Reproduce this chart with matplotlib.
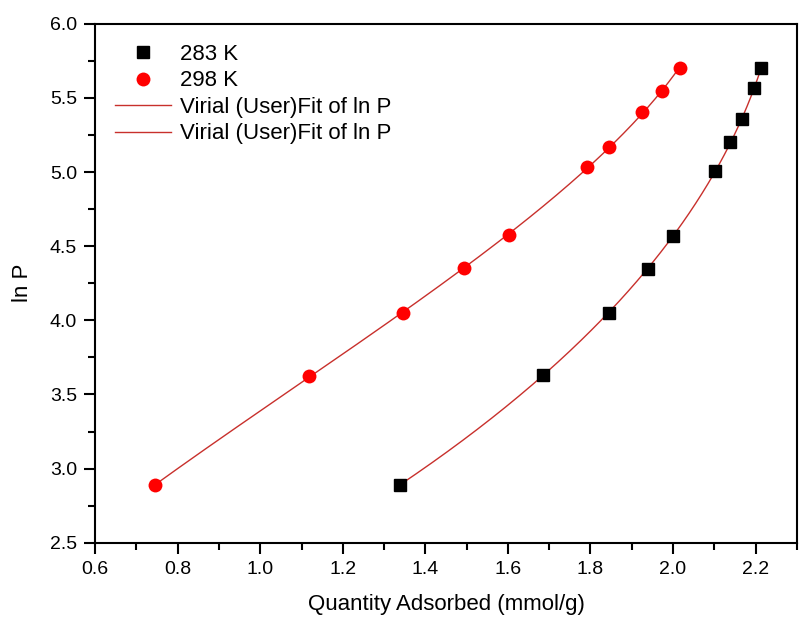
import numpy as np
import matplotlib.pyplot as plt
from matplotlib.ticker import MultipleLocator

plt.rcParams["font.family"] = ["Liberation Sans", "DejaVu Sans"]

# quantity adsorbed (mmol/g) and ln P for each temperature
n_283 = [1.338, 1.684, 1.845, 1.939, 2.001, 2.102, 2.139, 2.167, 2.197, 2.214]
lnp_283 = [2.889, 3.631, 4.051, 4.348, 4.572, 5.007, 5.200, 5.361, 5.570, 5.700]

n_298 = [0.745, 1.119, 1.345, 1.493, 1.603, 1.792, 1.845, 1.926, 1.974, 2.016]
lnp_298 = [2.889, 3.626, 4.049, 4.355, 4.575, 5.031, 5.169, 5.402, 5.550, 5.700]

FIT_COLOR = "#c8302c"


def smooth_fit(n, lnp, deg=3):
    """Least-squares polynomial N(ln P), drawn as a smooth curve over the data span."""
    n = np.asarray(n)
    lnp = np.asarray(lnp)
    coef = np.polyfit(lnp, n, deg)
    grid = np.linspace(lnp.min(), lnp.max(), 300)
    return np.polyval(coef, grid), grid


fig = plt.figure(figsize=(8, 6.26), dpi=100)
ax = fig.add_axes([0.119, 0.133, 0.877, 0.829])

ax.plot(n_283, lnp_283, "s", color="black", markersize=9, label="283 K", zorder=3)
ax.plot(n_298, lnp_298, "o", color="red", markersize=10, markeredgewidth=0, label="298 K", zorder=3)

gx, gy = smooth_fit(n_283, lnp_283)
ax.plot(gx, gy, color=FIT_COLOR, linewidth=1, label="Virial (User)Fit of ln P", zorder=2)
gx, gy = smooth_fit(n_298, lnp_298)
ax.plot(gx, gy, color=FIT_COLOR, linewidth=1, label="Virial (User)Fit of ln P", zorder=2)

ax.set_xlim(0.6, 2.3)
ax.set_ylim(2.5, 6.0)
ax.xaxis.set_major_locator(MultipleLocator(0.2))
ax.xaxis.set_minor_locator(MultipleLocator(0.1))
ax.yaxis.set_major_locator(MultipleLocator(0.5))
ax.yaxis.set_minor_locator(MultipleLocator(0.25))
ax.tick_params(which="major", direction="out", length=8, width=1.5, labelsize=14, pad=5)
ax.tick_params(which="minor", direction="out", length=5, width=1.5)
for spine in ax.spines.values():
    spine.set_linewidth(1.5)

ax.set_xlabel("Quantity Adsorbed (mmol/g)", fontsize=16, labelpad=12)
ax.set_ylabel("ln P", fontsize=16, labelpad=12)

ax.legend(loc="upper left", frameon=False, fontsize=16, handlelength=2.5,
          handletextpad=0.4, labelspacing=0.25, borderaxespad=0.5,
          bbox_to_anchor=(0.0, 1.0))

fig.savefig("out.png", dpi=100)
